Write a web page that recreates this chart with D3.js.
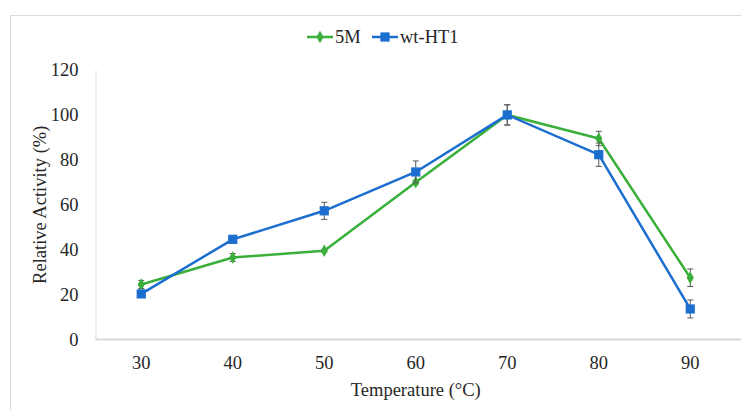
<!DOCTYPE html>
<html>
<head>
<meta charset="utf-8">
<script src="https://cdn.jsdelivr.net/npm/d3@7"></script>
<style>
  body { margin: 0; background: #fff; }
  svg text { font-family: "Liberation Serif", "DejaVu Serif", serif !important; fill: #262626; }
</style>
</head>
<body>
<div id="chart"></div>
<script>
// chart values
const temps = ["30", "40", "50", "60", "70", "80", "90"];
const yTicks = [0, 20, 40, 60, 80, 100, 120];
const seriesNames = ["5M", "wt-HT1"];
const values5M = [24.5, 36.5, 39.5, 70, 100, 89.5, 27.5];
const err5M = [1.8, 1.8, 0.6, 0.8, 4.5, 3.2, 3.9];
const valuesWT = [20.3, 44.6, 57.3, 74.6, 100, 82.3, 13.6];
const errWT = [0.8, 1.5, 3.8, 4.9, 4.5, 5.2, 4.0];

const width = 741, height = 410;
const margin = { left: 95.5, right: 5, top: 70, bottom: 70 };
const colors = { "5M": "#3aaf3a", "wt-HT1": "#1b6ecf" };
const fontSize = "18.5px";

const svg = d3.select("#chart")
    .append("svg")
    .attr("width", width)
    .attr("height", height);

// outer frame
svg.append("rect")
    .attr("x", 10.5)
    .attr("y", 15.5)
    .attr("width", 740)
    .attr("height", 420)
    .attr("fill", "none")
    .attr("stroke", "#d9d9d9");

const x = d3.scaleBand()
    .domain(temps)
    .range([margin.left, width - margin.right]);

const y = d3.scaleLinear()
    .domain([0, 120])
    .range([339.5, margin.top]);

// y axis
const yAxis = svg.append("g")
    .attr("transform", `translate(${margin.left},0)`)
    .call(d3.axisLeft(y).tickValues(yTicks).tickSize(0).tickPadding(17));
yAxis.select(".domain").attr("stroke", "#d9d9d9");
yAxis.selectAll("text").style("font-size", fontSize).attr("fill", "#262626");

// x axis
const xAxis = svg.append("g")
    .attr("transform", `translate(0,${y(0)})`)
    .call(d3.axisBottom(x).tickSize(0).tickPadding(16));
xAxis.select(".domain").attr("stroke", "#d9d9d9").attr("stroke-width", 2)
    .attr("d", `M${margin.left},0H${width}`);
xAxis.selectAll("text").style("font-size", fontSize).attr("fill", "#262626");

// axis titles
svg.append("text")
    .attr("transform", `translate(46,${(y(0) + y(120)) / 2}) rotate(-90)`)
    .attr("text-anchor", "middle")
    .style("font-size", fontSize)
    .text("Relative Activity (%)");

svg.append("text")
    .attr("x", (margin.left + width - margin.right) / 2)
    .attr("y", 396)
    .attr("text-anchor", "middle")
    .style("font-size", fontSize)
    .text("Temperature (°C)");

const cx = t => x(t) + x.bandwidth() / 2;

const series = [
    { name: "5M", values: values5M, err: err5M, shape: d3.symbolDiamond, size: 45 },
    { name: "wt-HT1", values: valuesWT, err: errWT, shape: d3.symbolSquare, size: 85 }
];

const line = d3.line()
    .x(d => cx(d.t))
    .y(d => y(d.v));

series.forEach(s => {
    const pts = temps.map((t, i) => ({ t: t, v: s.values[i], e: s.err[i] }));
    const g = svg.append("g");

    g.append("path")
        .datum(pts)
        .attr("fill", "none")
        .attr("stroke", colors[s.name])
        .attr("stroke-width", 2.5)
        .attr("stroke-linejoin", "round")
        .attr("d", line);

    // error bars
    const eb = g.selectAll(".err")
        .data(pts)
        .enter().append("g")
        .attr("stroke", "#595959")
        .attr("stroke-width", 1);
    eb.append("line")
        .attr("x1", d => cx(d.t)).attr("x2", d => cx(d.t))
        .attr("y1", d => y(d.v - d.e)).attr("y2", d => y(d.v + d.e));
    eb.append("line")
        .attr("x1", d => cx(d.t) - 3).attr("x2", d => cx(d.t) + 3)
        .attr("y1", d => y(d.v + d.e)).attr("y2", d => y(d.v + d.e));
    eb.append("line")
        .attr("x1", d => cx(d.t) - 3).attr("x2", d => cx(d.t) + 3)
        .attr("y1", d => y(d.v - d.e)).attr("y2", d => y(d.v - d.e));

    g.selectAll(".mk")
        .data(pts)
        .enter().append("path")
        .attr("transform", d => `translate(${cx(d.t)},${y(d.v)})`)
        .attr("d", d3.symbol().type(s.shape).size(s.size))
        .attr("fill", colors[s.name]);
});

// legend
const legendX = [307, 372];
const legend = svg.selectAll(".legend")
    .data(seriesNames)
    .enter().append("g")
    .attr("class", "legend")
    .attr("transform", (d, i) => `translate(${legendX[i]},37)`);

legend.append("line")
    .attr("x1", 0).attr("x2", 26)
    .attr("stroke", d => colors[d])
    .attr("stroke-width", 2.5);

legend.append("path")
    .attr("transform", "translate(13,0)")
    .attr("d", (d, i) => d3.symbol().type(series[i].shape).size(series[i].size)())
    .attr("fill", d => colors[d]);

legend.append("text")
    .attr("x", 28)
    .attr("dy", "0.35em")
    .style("font-size", fontSize)
    .text(d => d);
</script>
</body>
</html>
